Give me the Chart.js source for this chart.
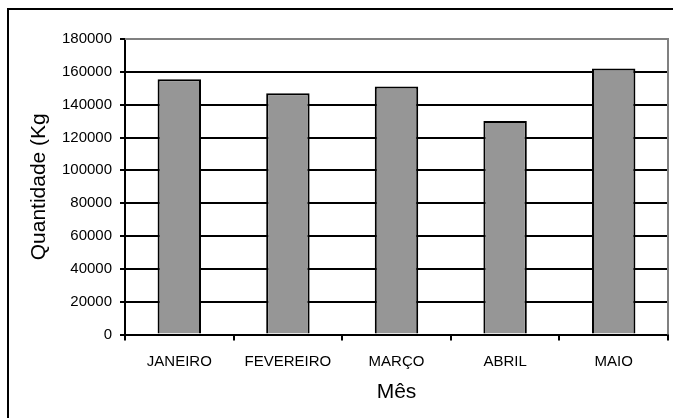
<!DOCTYPE html>
<html>
<head>
<meta charset="utf-8">
<script src="https://cdn.jsdelivr.net/npm/chart.js@4/dist/chart.umd.min.js"></script>
<style>
  html, body { margin: 0; padding: 0; background: #fff; }
  #wrap { width: 673px; height: 418px; position: relative; }
</style>
</head>
<body>
<div id="wrap"><canvas id="c" width="673" height="418"></canvas></div>
<script>
// Quantidade mensal (Kg)
const meses = ['JANEIRO', 'FEVEREIRO', 'MARÇO', 'ABRIL', 'MAIO'];
const quantidades = [155500, 147000, 151000, 130000, 162000];
const yMin = 0;
const yMax = 180000;
const yStep = 20000;
const tituloX = 'Mês';
const tituloY = 'Quantidade (Kg';

const FONT = '"Liberation Sans", Arial, sans-serif';

// Frame of the whole figure and the grey top/right edge of the plot box
const framePlugin = {
  id: 'frame',
  beforeDraw(chart) {
    const ctx = chart.ctx;
    ctx.save();
    ctx.fillStyle = '#fff';
    ctx.fillRect(0, 0, chart.width, chart.height);
    ctx.strokeStyle = '#000';
    ctx.lineWidth = 2;
    ctx.beginPath();
    ctx.moveTo(8, chart.height + 2);
    ctx.lineTo(8, 9);
    ctx.lineTo(chart.width + 2, 9);
    ctx.stroke();
    ctx.restore();
  },
  afterDatasetsDraw(chart) {
    const a = chart.chartArea;
    const ctx = chart.ctx;
    ctx.save();
    ctx.strokeStyle = '#808080';
    ctx.lineWidth = 2;
    ctx.beginPath();
    ctx.moveTo(a.left, a.top);
    ctx.lineTo(a.right, a.top);
    ctx.lineTo(a.right, a.bottom);
    ctx.stroke();
    ctx.restore();
  }
};

new Chart(document.getElementById('c'), {
  type: 'bar',
  data: {
    labels: meses,
    datasets: [{
      data: quantidades,
      backgroundColor: '#969696',
      borderColor: '#000',
      borderWidth: 2,
      borderSkipped: 'bottom',
      categoryPercentage: 1,
      barPercentage: 0.4
    }]
  },
  options: {
    responsive: false,
    animation: false,
    devicePixelRatio: 1,
    layout: { padding: { left: 0, top: 39, right: 5, bottom: 0 } },
    plugins: {
      legend: { display: false },
      tooltip: { enabled: false }
    },
    scales: {
      x: {
        afterFit(scale) { scale.height = 83.5; },
        grid: {
          offset: true,
          drawOnChartArea: false,
          drawTicks: true,
          tickLength: 6,
          tickColor: '#000',
          tickWidth: 2,
          color: '#000',
          lineWidth: 2
        },
        border: { display: true, color: '#000', width: 2 },
        ticks: {
          color: '#000',
          padding: 12,
          maxRotation: 0,
          autoSkip: false,
          font: { family: FONT, size: 15 }
        },
        title: {
          display: true,
          text: tituloX,
          color: '#000',
          font: { family: FONT, size: 21 },
          padding: { top: 0, bottom: 13 }
        }
      },
      y: {
        min: yMin,
        max: yMax,
        afterFit(scale) { scale.width = 125; },
        grid: {
          color: (c) => (c.tick && c.tick.value === yMax ? '#808080' : '#000'),
          lineWidth: 2,
          drawTicks: true,
          tickLength: 5,
          tickColor: '#000',
          tickWidth: 2
        },
        border: { display: true, color: '#000', width: 2 },
        ticks: {
          stepSize: yStep,
          color: '#000',
          padding: 8,
          font: { family: FONT, size: 15 },
          callback: (v) => String(v)
        },
        title: {
          display: true,
          text: tituloY,
          color: '#000',
          font: { family: FONT, size: 21 },
          padding: { top: 27, bottom: 0 }
        }
      }
    }
  },
  plugins: [framePlugin]
});
</script>
</body>
</html>
